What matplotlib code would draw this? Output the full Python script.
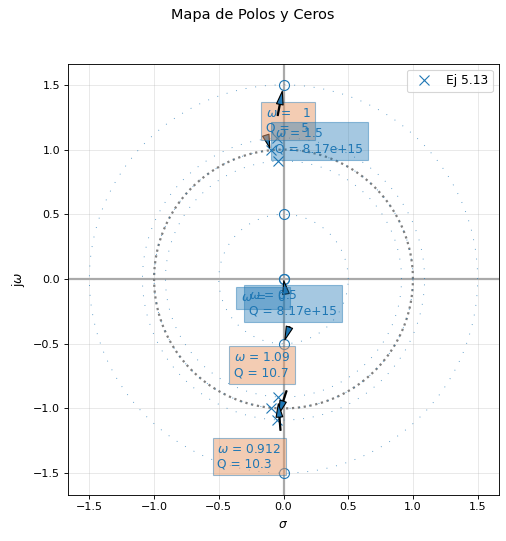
import numpy as np
import matplotlib
matplotlib.use("Agg")
import matplotlib.pyplot as plt

# pares de polos conjugados: frecuencia natural y factor de calidad
pole_w = [1.0, 1.09, 0.912]
pole_q = [5.0, 10.7, 10.3]
# ceros sobre el eje jw (Q enorme por redondeo numerico), y uno en el origen
zero_w = [1.5, 0.5, 0.0]
zero_q = [8.17e15, 8.17e15, np.nan]

# rama anotada de cada par (+1 arriba, -1 abajo) y posicion del texto
pole_rama = [1, -1, -1]
pole_txt = [(0.035, 1.222), (-0.166, -0.667), (-0.263, -1.372)]
zero_rama = [1, -1, 0]
zero_txt = [(0.278, 1.064), (0.073, -0.189), (-0.158, -0.146)]

LIM = 1.665
FC_POLO = (233 / 255, 155 / 255, 105 / 255, 0.5)
FC_CERO = (31 / 255, 119 / 255, 180 / 255, 0.4)
EC_CAJA = (31 / 255, 119 / 255, 180 / 255, 0.45)


def raiz(w, q):
    if w == 0:
        return 0.0, 0.0
    sigma = -w / (2 * q)
    wd = w * np.sqrt(1 - 1 / (4 * q ** 2))
    return sigma, wd


def etiqueta(w, q):
    if w == 0:
        return f"$\\omega$ = {w:3.3g}"
    return f"$\\omega$ = {w:3.3g}\nQ = {q:3.3g}"


def anotar(ax, txt, xy, xytext, fc):
    ax.annotate(txt, xy=xy, xytext=xytext, color="C0", fontsize=11,
                ha="center", va="center", multialignment="left",
                bbox=dict(boxstyle="square,pad=0.4", fc=fc, ec=EC_CAJA),
                arrowprops=dict(facecolor="C0", width=1, headwidth=6, shrink=0.15))


def main():
    fig = plt.figure(figsize=(506 / 80, 541 / 80), dpi=80)
    ax = fig.add_axes([68 / 506, 46 / 541, 431 / 506, 432 / 541])

    t = np.linspace(0, 2 * np.pi, 400)
    ax.plot(np.cos(t), np.sin(t), ls=":", color="gray", lw=2)

    # circulos de radio w para cada raiz
    for w in pole_w + zero_w:
        if w > 0:
            ax.plot(w * np.cos(t), w * np.sin(t), color="C0", lw=0.8,
                    ls=(0, (1, 10)), alpha=0.8)

    ax.axhline(0, color="darkgray", lw=2, zorder=1)
    ax.axvline(0, color="darkgray", lw=2, zorder=1)

    ps = [raiz(w, q) for w, q in zip(pole_w, pole_q)]
    px = [s for s, _ in ps] * 2
    py = [d for _, d in ps] + [-d for _, d in ps]
    ax.plot(px, py, "x", color="C0", ms=9, label="Ej 5.13")

    zs = [raiz(w, q) for w, q in zip(zero_w, zero_q)]
    zx = [s for s, _ in zs] * 2
    zy = [d for _, d in zs] + [-d for _, d in zs]
    ax.plot(zx, zy, "o", color="C0", mfc="none", ms=9)

    for w, q, r, pos in zip(pole_w, pole_q, pole_rama, pole_txt):
        s, d = raiz(w, q)
        anotar(ax, etiqueta(w, q), (s, r * d), pos, FC_POLO)
    for w, q, r, pos in zip(zero_w, zero_q, zero_rama, zero_txt):
        s, d = raiz(w, q)
        anotar(ax, etiqueta(w, q), (s, r * d), pos, FC_CERO)

    ax.set_xlim(-LIM, LIM)
    ax.set_ylim(-LIM, LIM)
    ax.set_aspect("equal")
    ax.set_xticks(np.arange(-1.5, 1.51, 0.5))
    ax.set_yticks(np.arange(-1.5, 1.51, 0.5))
    ax.grid(True, alpha=0.3)
    ax.set_xlabel(r"$\sigma$", fontsize=11, labelpad=5)
    ax.set_ylabel(r"j$\omega$", fontsize=11, labelpad=6)
    ax.legend(loc="upper right", fontsize=11)
    fig.suptitle("Mapa de Polos y Ceros", fontsize=13, y=0.985)

    fig.savefig("out.png", dpi=80)


if __name__ == "__main__":
    main()
